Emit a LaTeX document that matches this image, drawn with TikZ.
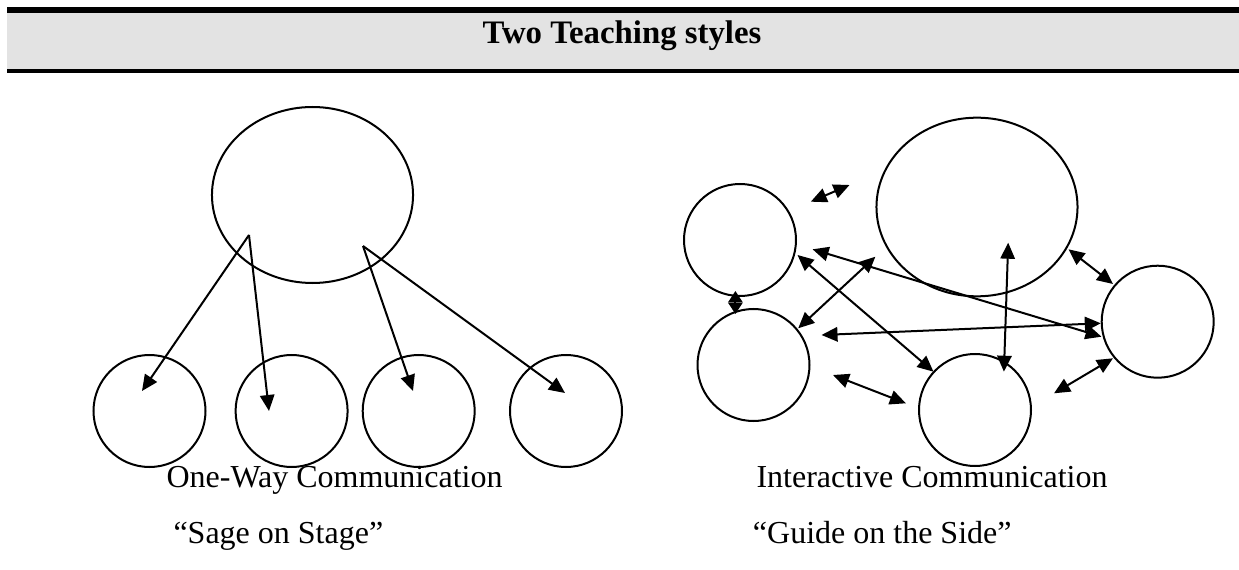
\documentclass[tikz,border=0pt]{standalone}
\usepackage{fontspec}
\setmainfont{Liberation Serif}
\usetikzlibrary{shapes.geometric,arrows.meta}
\definecolor{hdrgray}{RGB}{227,227,227}
\tikzset{
  bigoval/.style={draw,ellipse,line width=0.75pt,inner sep=0pt,minimum width=75.4pt,minimum height=66pt},
  person/.style={draw,circle,line width=0.75pt,inner sep=0pt,minimum size=42pt},
  onearrow/.style={line width=0.75pt,-{Triangle[length=6pt,width=5.4pt]}},
  twoarrow/.style={line width=0.75pt,{Triangle[length=6pt,width=5.4pt]}-{Triangle[length=6pt,width=5.4pt]}},
  lbl/.style={anchor=base west,inner sep=0pt,font=\fontsize{12}{14}\selectfont},
}
\begin{document}
\begin{tikzpicture}[x=0.375pt,y=-0.375pt]
\useasboundingbox (0,0) rectangle (1239,570);
% header
\fill[hdrgray] (7,12.7) rectangle (1239,68.7);
\fill[black] (7,6.7) rectangle (1239,12.7);
\fill[black] (7,68.7) rectangle (1239,72.7);
\node[anchor=base,inner sep=0pt,font=\fontsize{12.3}{14}\selectfont\bfseries] (title) at (622,43.3) {Two Teaching styles};

% ---------- left diagram ----------
\node[bigoval] (sage) at (312.5,195) {};
\node[person] (s1) at (149.5,411) {};
\node[person] (s2) at (291.6,411) {};
\node[person] (s3) at (418.7,411) {};
\node[person] (s4) at (566,411) {};
\coordinate (la) at (249,235);
\coordinate (lb) at (363,246);
\coordinate (t1) at (142,391);
\coordinate (t2) at (269,411);
\coordinate (t3) at (413,391);
\coordinate (t4) at (565,393);
\draw[onearrow] (la) -- (t1);
\draw[onearrow] (la) -- (t2);
\draw[onearrow] (lb) -- (t3);
\draw[onearrow] (lb) -- (t4);

\node[lbl] (oneway) at (166,487) {One-Way Communication};
\node[lbl] (sagelbl) at (173,543) {``Sage on Stage''};

% ---------- right diagram ----------
\node[bigoval,minimum height=67pt] (guide) at (977,207) {};
\node[person] (pTL) at (740,240) {};
\node[person] (pML) at (753.5,365) {};
\node[person] (pB) at (975,410) {};
\node[person] (pR) at (1157.7,321.7) {};

\coordinate (a1) at (810.8,201.7); \coordinate (b1) at (849.5,185);
\coordinate (a2) at (735.4,291); \coordinate (b2) at (735.4,314);
\coordinate (a3) at (812.6,249.3); \coordinate (b3) at (1101.5,336.7);
\coordinate (a4) at (797.5,255); \coordinate (b4) at (933.5,371.7);
\coordinate (a5) at (798.2,328.3); \coordinate (b5) at (875.4,256.7);
\coordinate (a6) at (821.5,335); \coordinate (b6) at (1100.8,323.3);
\coordinate (a7) at (1008.2,242.7); \coordinate (b7) at (1003.9,371.7);
\coordinate (a8) at (1068.5,249.3); \coordinate (b8) at (1113,284);
\coordinate (a9) at (833,375); \coordinate (b9) at (905.9,403.3);
\coordinate (a10) at (1054,393.3); \coordinate (b10) at (1113,358.3);

\draw[twoarrow] (a1) -- (b1);
\draw[line width=0.75pt,{Triangle[length=4.3pt,width=5.4pt]}-{Triangle[length=4.3pt,width=5.4pt]}] (a2) -- (b2);
\draw[twoarrow] (a3) -- (b3);
\draw[twoarrow] (a4) -- (b4);
\draw[twoarrow] (a5) -- (b5);
\draw[twoarrow] (a6) -- (b6);
\draw[twoarrow] (a7) -- (b7);
\draw[twoarrow] (a8) -- (b8);
\draw[twoarrow] (a9) -- (b9);
\draw[twoarrow] (a10) -- (b10);

\node[lbl] (interlbl) at (756,487) {Interactive Communication};
\node[lbl] (guidelbl) at (752.4,543) {``Guide on the Side''};
\end{tikzpicture}
\end{document}
